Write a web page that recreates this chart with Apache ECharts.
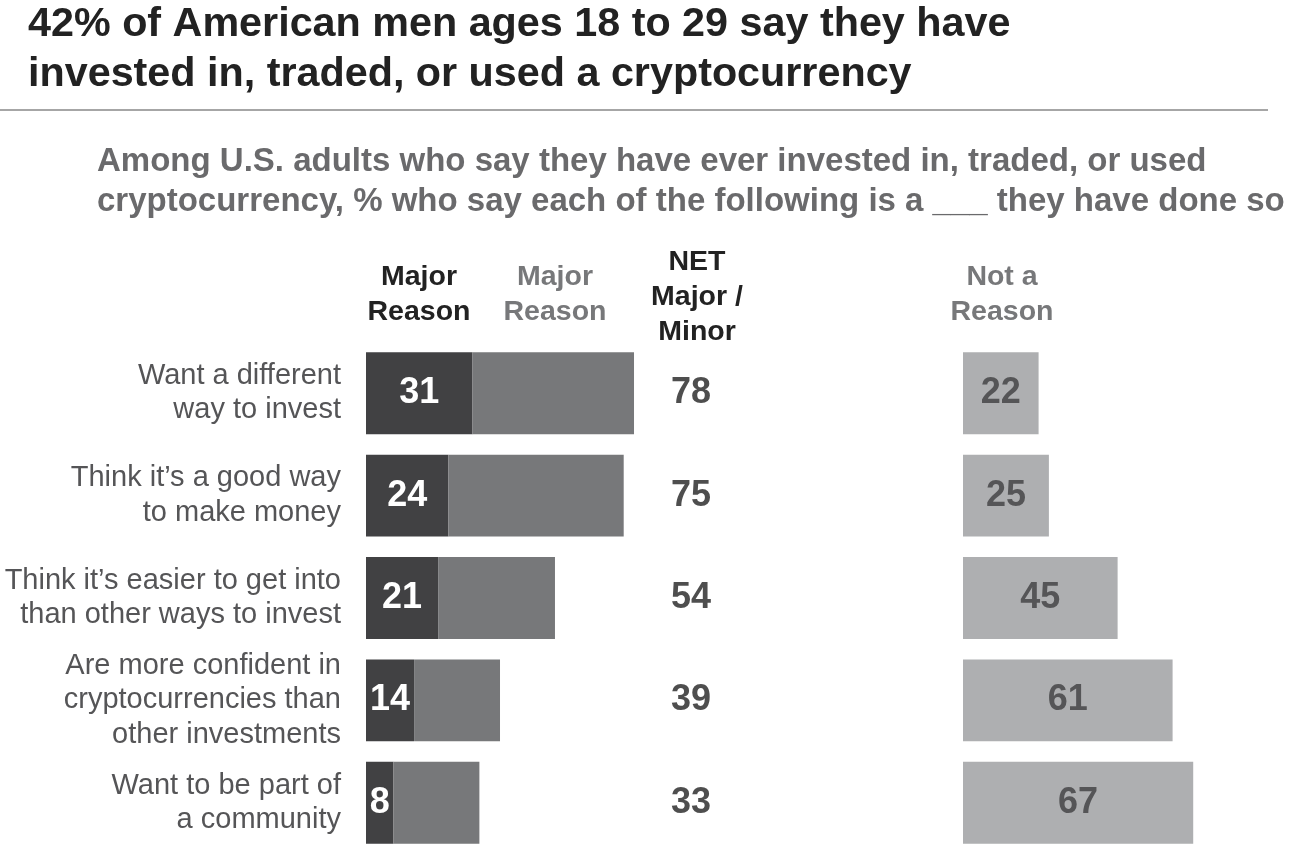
<!DOCTYPE html>
<html>
<head>
<meta charset="utf-8">
<script src="https://cdn.jsdelivr.net/npm/echarts@6/dist/echarts.min.js"></script>
<style>
html,body{margin:0;padding:0;background:#fff;}
#chart{width:1290px;height:844px;}
</style>
</head>
<body>
<div id="chart"></div>
<script>
var categories = [
  'Want a different\nway to invest',
  'Think it\u2019s a good way\nto make money',
  'Think it\u2019s easier to get into\nthan other ways to invest',
  'Are more confident in\ncryptocurrencies than\nother investments',
  'Want to be part of\na community'
];
var majorReason = [31, 24, 21, 14, 8];
var minorReason = [47, 51, 34, 25, 25];
var netMajorMinor = [78, 75, 54, 39, 33];
var notReason = [22, 25, 45, 61, 67];
var netColumn = ['NET'];

var FONT = '"Liberation Sans", Arial, Helvetica, sans-serif';
var chart = echarts.init(document.getElementById('chart'), null, {renderer: 'canvas'});

var gridTop = 342, gridHeight = 512, unitPx = 3.436;

var option = {
  backgroundColor: '#ffffff',
  animation: false,
  title: [
    {
      text: '42% of American men ages 18 to 29 say they have\ninvested in, traded, or used a cryptocurrency',
      left: 23, top: -5,
      textStyle: {fontFamily: FONT, fontSize: 41.3, fontWeight: 'bold', color: '#222222', lineHeight: 50}
    },
    {
      text: 'Among U.S. adults who say they have ever invested in, traded, or used\ncryptocurrency, % who say each of the following is a ___ they have done so',
      left: 92, top: 137,
      textStyle: {fontFamily: FONT, fontSize: 33, fontWeight: 'bold', color: '#6a6a6c', lineHeight: 40}
    }
  ],
  graphic: [
    {type: 'line', shape: {x1: 0, y1: 110, x2: 1268, y2: 110}, style: {stroke: '#a6a6a6', lineWidth: 2}},
    {type: 'text', x: 419, y: 295, style: {text: 'Major\nReason', fontFamily: FONT, fontSize: 28.5, fontWeight: 'bold', fill: '#222222', align: 'center', verticalAlign: 'middle', lineHeight: 35}},
    {type: 'text', x: 555, y: 295, style: {text: 'Major\nReason', fontFamily: FONT, fontSize: 28.5, fontWeight: 'bold', fill: '#77787a', align: 'center', verticalAlign: 'middle', lineHeight: 35}},
    {type: 'text', x: 697, y: 297.5, style: {text: 'NET\nMajor /\nMinor', fontFamily: FONT, fontSize: 28.5, fontWeight: 'bold', fill: '#222222', align: 'center', verticalAlign: 'middle', lineHeight: 35}},
    {type: 'text', x: 1002, y: 295, style: {text: 'Not a\nReason', fontFamily: FONT, fontSize: 28.5, fontWeight: 'bold', fill: '#77787a', align: 'center', verticalAlign: 'middle', lineHeight: 35}}
  ],
  grid: [
    {left: 366, top: gridTop, width: 100 * unitPx, height: gridHeight, containLabel: false, outerBoundsMode: 'none'},
    {left: 641, top: gridTop, width: 100, height: gridHeight, containLabel: false, outerBoundsMode: 'none'},
    {left: 963, top: gridTop, width: 90 * unitPx, height: gridHeight, containLabel: false, outerBoundsMode: 'none'}
  ],
  xAxis: [
    {gridIndex: 0, type: 'value', min: 0, max: 100, show: false},
    {gridIndex: 1, type: 'category', data: netColumn, show: false},
    {gridIndex: 2, type: 'value', min: 0, max: 90, show: false}
  ],
  yAxis: [
    {
      gridIndex: 0, type: 'category', data: categories, inverse: true,
      axisLine: {show: false}, axisTick: {show: false}, splitLine: {show: false},
      axisLabel: {show: true, margin: 25, fontFamily: FONT, fontSize: 29, color: '#555557', lineHeight: 34.5, align: 'right'}
    },
    {gridIndex: 1, type: 'category', data: categories, inverse: true, show: false},
    {gridIndex: 2, type: 'category', data: categories, inverse: true, show: false}
  ],
  series: [
    {
      name: 'Major Reason', type: 'bar', stack: 'reason', xAxisIndex: 0, yAxisIndex: 0,
      data: majorReason, barCategoryGap: '20%',
      itemStyle: {color: '#414143'},
      label: {show: true, position: 'inside', fontFamily: FONT, fontSize: 36, fontWeight: 'bold', color: '#ffffff'}
    },
    {
      name: 'Minor Reason', type: 'bar', stack: 'reason', xAxisIndex: 0, yAxisIndex: 0,
      data: minorReason, barCategoryGap: '20%',
      itemStyle: {color: '#77787a'},
      label: {show: false}
    },
    {
      name: 'NET Major / Minor', type: 'scatter', xAxisIndex: 1, yAxisIndex: 1,
      symbolSize: 0,
      data: netMajorMinor.map(function (v, i) { return [netColumn[0], categories[i], v]; }),
      label: {
        show: true, position: 'inside', fontFamily: FONT, fontSize: 36, fontWeight: 'bold', color: '#222222',
        formatter: function (p) { return p.value[2]; }
      }
    },
    {
      name: 'Not a Reason', type: 'bar', xAxisIndex: 2, yAxisIndex: 2,
      data: notReason, barCategoryGap: '20%',
      itemStyle: {color: '#aeafb1'},
      label: {show: true, position: 'inside', fontFamily: FONT, fontSize: 36, fontWeight: 'bold', color: '#555557'}
    }
  ]
};
chart.setOption(option);
</script>
</body>
</html>
